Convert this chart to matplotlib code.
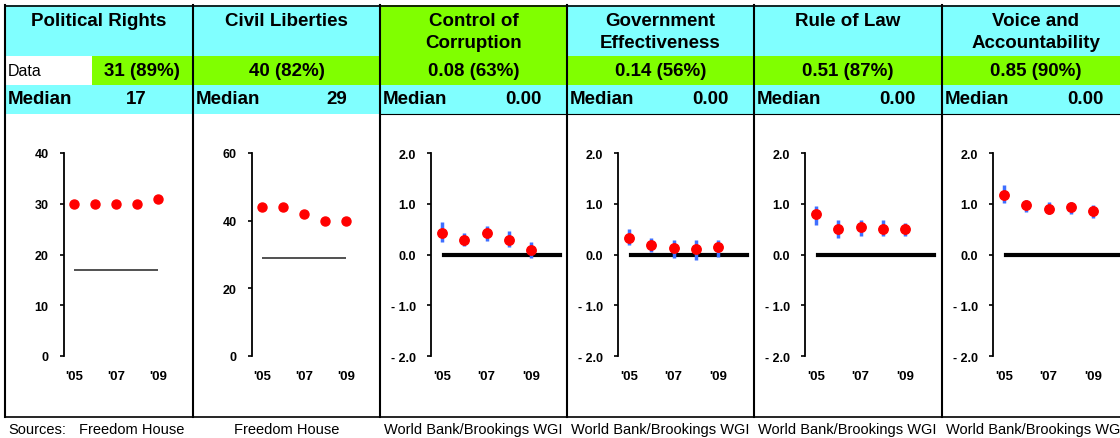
import matplotlib.pyplot as plt
from matplotlib.patches import Rectangle

plt.rcParams['font.family'] = ['Liberation Sans', 'DejaVu Sans']

W, H = 1120, 439
CYAN = '#80FFFF'
GREEN = '#80FF00'

# header table
titles = [["Political Rights"], ["Civil Liberties"], ["Control of", "Corruption"],
          ["Government", "Effectiveness"], ["Rule of Law"], ["Voice and", "Accountability"]]
title_colors = [CYAN, CYAN, GREEN, CYAN, CYAN, CYAN]
data_labels = ["31 (89%)", "40 (82%)", "0.08 (63%)", "0.14 (56%)", "0.51 (87%)", "0.85 (90%)"]
median_labels = ["17", "29", "0.00", "0.00", "0.00", "0.00"]
sources = ["Freedom House", "Freedom House", "World Bank/Brookings WGI",
           "World Bank/Brookings WGI", "World Bank/Brookings WGI", "World Bank/Brookings WGI"]

years = [2005, 2006, 2007, 2008, 2009]
year_ticks = [2005, 2007, 2009]
year_labels = ["'05", "'07", "'09"]

# Freedom House scores
political_rights = [30, 30, 30, 30, 31]
political_median = 17
civil_liberties = [44, 44, 42, 40, 40]
civil_median = 29

# WGI estimates with error ranges
corruption = [0.43, 0.29, 0.43, 0.29, 0.08]
corruption_lo = [0.25, 0.16, 0.26, 0.14, -0.07]
corruption_hi = [0.64, 0.42, 0.57, 0.46, 0.25]

effectiveness = [0.32, 0.18, 0.12, 0.11, 0.14]
effectiveness_lo = [0.18, 0.04, -0.07, -0.10, -0.04]
effectiveness_hi = [0.50, 0.32, 0.28, 0.28, 0.28]

rule_of_law = [0.79, 0.50, 0.54, 0.50, 0.50]
rule_of_law_lo = [0.58, 0.33, 0.37, 0.36, 0.37]
rule_of_law_hi = [0.96, 0.67, 0.67, 0.68, 0.63]

voice = [1.18, 0.97, 0.89, 0.93, 0.86]
voice_lo = [1.01, 0.83, 0.79, 0.79, 0.71]
voice_hi = [1.36, 1.07, 1.03, 1.03, 0.97]

wgi_median = 0.0

panel_left = [5, 193, 380, 567, 754, 942]
PW = 187

fig = plt.figure(figsize=(W / 100, H / 100), dpi=100)
bg = fig.add_axes([0, 0, 1, 1])
bg.set_xlim(0, W)
bg.set_ylim(H, 0)
bg.axis('off')

for i, x0 in enumerate(panel_left):
    bg.add_patch(Rectangle((x0, 6), PW, 51, color=title_colors[i], lw=0))
    if i == 0:
        bg.add_patch(Rectangle((92, 57), x0 + PW - 92, 29, color=GREEN, lw=0))
        bg.text(8, 71.5, "Data", fontsize=11.5, ha='left', va='center')
        bg.text(142, 71.5, data_labels[i], fontsize=13.5, fontweight='bold', ha='center', va='center')
    else:
        bg.add_patch(Rectangle((x0, 57), PW, 29, color=GREEN, lw=0))
        bg.text(x0 + PW / 2, 71.5, data_labels[i], fontsize=13.5, fontweight='bold',
                ha='center', va='center')
    bg.add_patch(Rectangle((x0, 86), PW, 28.5, color=CYAN, lw=0))
    for k, line in enumerate(titles[i]):
        bg.text(x0 + PW / 2, 21 + 22 * k, line, fontsize=13.5, fontweight='bold',
                ha='center', va='center')
    bg.text(x0 + 3, 100, "Median", fontsize=13.5, fontweight='bold', ha='left', va='center')
    off = [45, 33, 25, 25, 25, 25][i]
    bg.text(x0 + PW - off, 100, median_labels[i], fontsize=13.5, fontweight='bold',
            ha='right', va='center')
    # source line
    sx = 132 if i == 0 else x0 + PW / 2
    bg.text(sx, 430, sources[i], fontsize=10.5, ha='center', va='center')

bg.text(8, 430, "Sources:", fontsize=10.5, ha='left', va='center')

# grid lines of the table
bg.plot([5, W], [6.5, 6.5], color='black', lw=1.2)
bg.plot([5, W], [418, 418], color='black', lw=1.2)
bg.plot([380, W], [114.5, 114.5], color='black', lw=0.8)
for x0 in panel_left + [panel_left[-1] + PW]:
    bg.plot([x0, x0], [6, 418], color='black', lw=1.5)


def style_axis(ax, ticks, labels):
    ax.set_facecolor('none')
    for s in ['top', 'right', 'bottom']:
        ax.spines[s].set_visible(False)
    ax.spines['left'].set_linewidth(1.3)
    ax.set_yticks(ticks)
    ax.set_yticklabels(labels, fontsize=9, fontweight='bold')
    ax.set_ylim(ticks[0], ticks[-1])
    ax.set_xticks(year_ticks)
    ax.set_xticklabels(year_labels, fontsize=9.5, fontweight='bold')
    ax.tick_params(axis='y', length=3, width=1.2, pad=8, direction='out')
    ax.tick_params(axis='x', length=0, pad=10)
    ax.spines['left'].set_bounds(ticks[0], ticks[-1])


def make_axes(x_px, w_px):
    return fig.add_axes([x_px / W, (H - 357) / H, w_px / W, 203 / H])


# Freedom House panels
fh = [(political_rights, political_median, [0, 10, 20, 30, 40]),
      (civil_liberties, civil_median, [0, 20, 40, 60])]
for i, (vals, med, ticks) in enumerate(fh):
    ax = make_axes(panel_left[i] + 59, 120)
    ax.set_xlim(2005 - 10 / 21, 2005 - 10 / 21 + 120 / 21)
    ax.hlines(med, years[0], years[-1], color='#222222', lw=1.1)
    ax.plot(years, vals, 'o', color='#FF0000', ms=6.5, mec='#FF0000')
    style_axis(ax, ticks, [str(t) for t in ticks])

# WGI panels
wgi = [(corruption, corruption_lo, corruption_hi),
       (effectiveness, effectiveness_lo, effectiveness_hi),
       (rule_of_law, rule_of_law_lo, rule_of_law_hi),
       (voice, voice_lo, voice_hi)]
wgi_ticks = [-2.0, -1.0, 0.0, 1.0, 2.0]
wgi_tick_labels = ["- 2.0", "- 1.0", "0.0", "1.0", "2.0"]
for j, (vals, lo, hi) in enumerate(wgi):
    ax = make_axes(panel_left[j + 2] + 51, 140)
    ax.set_xlim(2005 - 11 / 22.25, 2005 - 11 / 22.25 + 140 / 22.25)
    ax.axhline(wgi_median, xmin=13 / 140, xmax=129 / 140, color='black', lw=3, clip_on=False)
    ax.vlines(years, lo, hi, color='#3F6FFF', lw=2.5)
    ax.plot(years, vals, 'o', color='#FF0000', ms=6.8, mec='#FF0000')
    style_axis(ax, wgi_ticks, wgi_tick_labels)

fig.savefig('out.png', dpi=100)
